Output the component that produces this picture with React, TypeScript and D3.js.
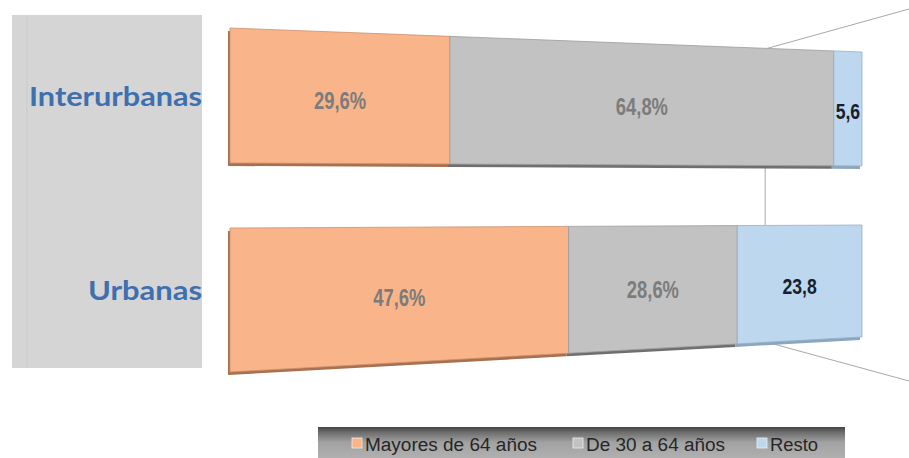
import React, { useRef, useEffect } from "react";
import * as d3 from "d3";

// data
const categories = ["Interurbanas", "Urbanas"];
const seriesNames = ["Mayores de 64 años", "De 30 a 64 años", "Resto"];
const mayores64 = [29.6, 47.6];
const de30a64 = [64.8, 28.6];
const resto = [5.6, 23.8];

const colors = ["#f9b48a", "#c2c2c2", "#bdd7ee"];
const sideColors = ["#a8704f", "#6f6f6f", "#8aa6c0"];
const labelColors = ["#7c7c7c", "#7c7c7c", "#17202e"];

const W = 909;
const H = 458;

// bars are drawn in a tilted perspective: left end bigger than right end
const barLeft = 230;
const barRight = 862;
const perspective = 1.27;
// y of top / bottom edges at the left (s=0) and right (s=1) ends
const bands = [
  { top: [28, 52], bottom: [163, 166] },
  { top: [228, 225], bottom: [372, 337] },
];

const App = () => {
  const ref = useRef<SVGSVGElement>(null);

  useEffect(() => {
    document.body.style.margin = "0";
    const svg = d3.select(ref.current);
    svg.selectAll("*").remove();

    const series = [mayores64, de30a64, resto];
    const rows = categories.map((c, i) => series.map((s) => s[i]));

    const xScale = d3.scaleLinear().domain([0, 100]).range([0, 1]);
    const persp = (u: number) => (perspective * u) / (1 + (perspective - 1) * u);
    const sx = d3.scaleLinear().domain([0, 1]).range([barLeft, barRight]);
    const topY = (i: number, s: number) =>
      d3.interpolateNumber(bands[i].top[0], bands[i].top[1])(s);
    const botY = (i: number, s: number) =>
      d3.interpolateNumber(bands[i].bottom[0], bands[i].bottom[1])(s);

    // left grey panel
    svg
      .append("rect")
      .attr("x", 12)
      .attr("y", 15)
      .attr("width", 190)
      .attr("height", 353)
      .attr("fill", "#d5d5d5");
    svg
      .append("line")
      .attr("x1", 27)
      .attr("x2", 27)
      .attr("y1", 15)
      .attr("y2", 368)
      .attr("stroke", "#cbcbcb");

    // connector lines
    const sConn = 0.85;
    const lineG = svg.append("g").attr("stroke", "#a8a8a8").attr("stroke-width", 1);
    lineG
      .append("line")
      .attr("x1", sx(sConn))
      .attr("y1", topY(0, sConn))
      .attr("x2", W)
      .attr("y2", 9);
    lineG
      .append("line")
      .attr("x1", sx(sConn) - 2)
      .attr("y1", botY(0, sConn))
      .attr("x2", sx(sConn) - 2)
      .attr("y2", topY(1, sConn));
    lineG
      .append("line")
      .attr("x1", sx(sConn))
      .attr("y1", botY(1, sConn))
      .attr("x2", W)
      .attr("y2", 381);

    const fmt = d3.format(".1f");

    rows.forEach((vals, i) => {
      const g = svg.append("g");
      let cum = 0;
      const segs = vals.map((v, j) => {
        const s0 = persp(xScale(cum));
        cum += v;
        const s1 = persp(xScale(cum));
        return { v, j, s0, s1 };
      });
      const quad = (s0: number, s1: number, dx = 0, dy = 0) =>
        [
          [sx(s0) + dx, topY(i, s0) + dy],
          [sx(s1) + dx, topY(i, s1) + dy],
          [sx(s1) + dx, botY(i, s1) + dy],
          [sx(s0) + dx, botY(i, s0) + dy],
        ]
          .map((p) => p.join(","))
          .join(" ");

      // depth / side faces
      g.selectAll(".side")
        .data(segs)
        .join("polygon")
        .attr("points", (d) => quad(d.s0, d.s1, -2, 3))
        .attr("fill", (d) => sideColors[d.j]);

      g.selectAll(".face")
        .data(segs)
        .join("polygon")
        .attr("points", (d) => quad(d.s0, d.s1))
        .attr("fill", (d) => colors[d.j])
        .attr("stroke", (d) => d3.color(colors[d.j])!.darker(0.6).toString())
        .attr("stroke-width", 0.8);

      g.selectAll("text")
        .data(segs)
        .join("text")
        .attr("transform", (d) => {
          const sm = (d.s0 + d.s1) / 2;
          const y = (topY(i, sm) + botY(i, sm)) / 2 + 3;
          return `translate(${sx(sm)},${y}) scale(0.8,1)`;
        })
        .attr("text-anchor", "middle")
        .attr("dy", "0.35em")
        .attr("font-family", "'Liberation Sans', Arial, sans-serif")
        .attr("font-weight", "bold")
        .attr("font-size", (d) => (d.j === 2 ? 22 : 23))
        .attr("fill", (d) => labelColors[d.j])
        .text((d) => fmt(d.v).replace(".", ",") + (d.j === 2 ? "" : "%"));
    });

    // category labels
    const catY = [106, 300];
    const catLen = [173, 114];
    svg
      .selectAll(".cat")
      .data(categories)
      .join("text")
      .attr("x", 202)
      .attr("y", (d, i) => catY[i])
      .attr("text-anchor", "end")
      .attr("font-family", "Lato, 'Open Sans', sans-serif")
      .attr("font-weight", "bold")
      .attr("font-size", 27)
      .attr("fill", "#3e6fae")
      .attr("textLength", (d, i) => catLen[i])
      .attr("lengthAdjust", "spacingAndGlyphs")
      .text((d) => d);

    // legend
    const defs = svg.append("defs");
    const grad = defs
      .append("linearGradient")
      .attr("id", "legGrad")
      .attr("x1", 0)
      .attr("y1", 0)
      .attr("x2", 0)
      .attr("y2", 1);
    [
      [0, "#444444"],
      [0.18, "#6e6e6e"],
      [0.5, "#a2a2a2"],
      [1, "#b0b0b0"],
    ].forEach(([o, c]) =>
      grad.append("stop").attr("offset", o as number).attr("stop-color", c as string)
    );
    svg
      .append("rect")
      .attr("x", 318)
      .attr("y", 427)
      .attr("width", 527)
      .attr("height", 31)
      .attr("fill", "url(#legGrad)");

    const legX = [352, 573, 757];
    const legLen = [172, 139, 48];
    const leg = svg
      .selectAll(".leg")
      .data(seriesNames)
      .join("g")
      .attr("transform", (d, i) => `translate(${legX[i]},0)`);
    leg
      .append("rect")
      .attr("x", 0)
      .attr("y", 438)
      .attr("width", 10)
      .attr("height", 10)
      .attr("fill", (d, i) => colors[i])
      .attr("stroke", "#eeeeee")
      .attr("stroke-width", 0.8);
    leg
      .append("text")
      .attr("x", 13)
      .attr("y", 451)
      .attr("font-family", "'Liberation Sans', Arial, sans-serif")
      .attr("font-size", 18)
      .attr("fill", "#262626")
      .attr("textLength", (d, i) => legLen[i])
      .attr("lengthAdjust", "spacingAndGlyphs")
      .text((d) => d);
  }, []);

  return <svg ref={ref} width={W} height={H} style={{ display: "block", background: "#fff" }} />;
};

export default App;
